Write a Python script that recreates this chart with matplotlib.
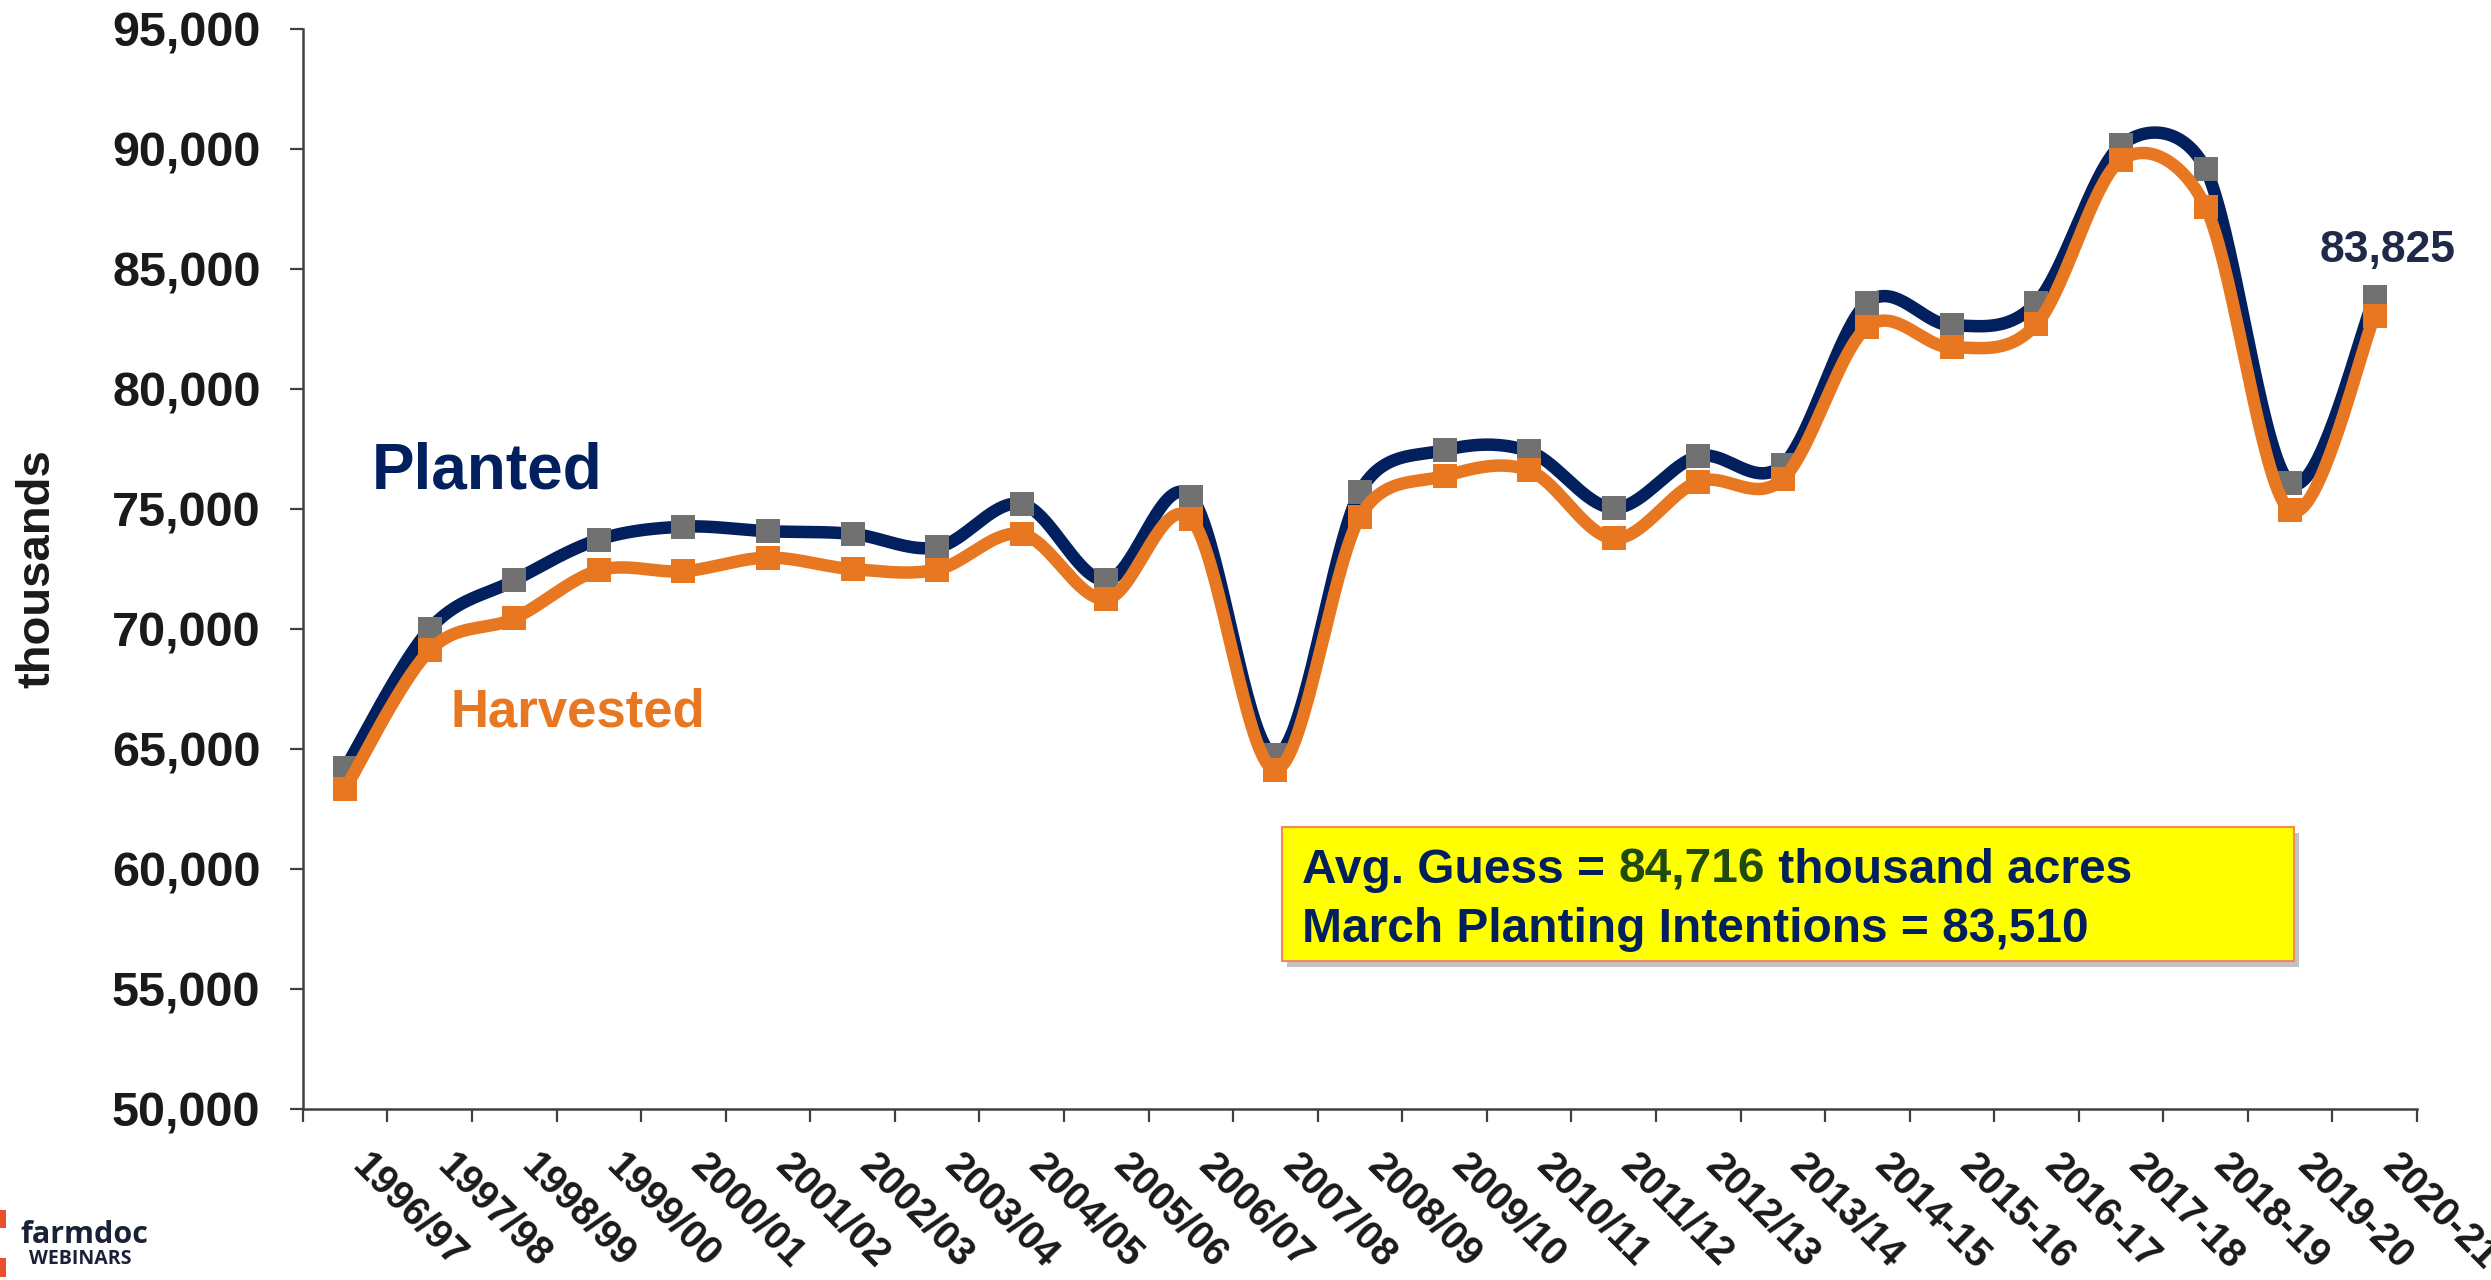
import numpy as np
import matplotlib.pyplot as plt
from matplotlib.patches import Rectangle
from matplotlib.ticker import FuncFormatter, FixedLocator

plt.rcParams['font.family'] = ['Liberation Sans', 'DejaVu Sans']
plt.rcParams['font.weight'] = 'bold'

# Soybean acreage (thousand acres)
years = ["1996/97", "1997/98", "1998/99", "1999/00", "2000/01", "2001/02",
         "2002/03", "2003/04", "2004/05", "2005/06", "2006/07", "2007/08",
         "2008/09", "2009/10", "2010/11", "2011/12", "2012/13", "2013/14",
         "2014-15", "2015-16", "2016-17", "2017-18", "2018-19", "2019-20",
         "2020-21"]
planted = [64195, 70005, 72025, 73730, 74266, 74075, 73963, 73404, 75208,
           72032, 75522, 64741, 75718, 77451, 77404, 75046, 77198, 76840,
           83600, 82650, 83600, 90162, 89167, 76100, 83825]
harvested = [63349, 69110, 70441, 72446, 72408, 72975, 72497, 72476, 73958,
             71251, 74602, 64146, 74681, 76372, 76610, 73776, 76144, 76253,
             82591, 81732, 82706, 89542, 87594, 74939, 83050]

avg_guess = "84,716"
march_intentions = "83,510"

NAVY = "#021F5E"
ORANGE = "#E87722"
GRAY = "#717171"


def smooth(ax, xs, ys, n=40):
    # Excel-style smoothed line: cubic bezier in screen space,
    # 1/6 tangents clamped to half the segment length
    pts = ax.transData.transform(np.column_stack([xs, ys]).astype(float))
    out = []
    t = np.linspace(0, 1, n)[:, None]
    m = len(pts)
    for i in range(m - 1):
        p0 = pts[max(i - 1, 0)]
        p1 = pts[i]
        p2 = pts[i + 1]
        p3 = pts[min(i + 2, m - 1)]
        d12 = np.hypot(*(p2 - p1))
        v1 = (p2 - p0) / 6
        v2 = (p3 - p1) / 6
        l1 = np.hypot(*v1)
        l2 = np.hypot(*v2)
        if l1 > d12 / 2:
            v1 *= d12 / 2 / l1
        if l2 > d12 / 2:
            v2 *= d12 / 2 / l2
        c1 = p1 + v1
        c2 = p2 - v2
        seg = (1 - t) ** 3 * p1 + 3 * (1 - t) ** 2 * t * c1 + 3 * (1 - t) * t ** 2 * c2 + t ** 3 * p2
        out.append(seg if i == 0 else seg[1:])
    return ax.transData.inverted().transform(np.vstack(out))


fig = plt.figure(figsize=(24.91, 12.8), dpi=100)
ax = fig.add_axes([0.1216, 0.1336, 0.9703 - 0.1216, 0.9773 - 0.1336])

x = np.arange(len(years))
ax.set_xlim(-0.5, len(years) - 0.5)
ax.set_ylim(50000, 95000)

sp = smooth(ax, x, planted)
ax.plot(sp[:, 0], sp[:, 1], color=NAVY, lw=9, solid_capstyle='butt', zorder=2)
ax.plot(x, planted, ls='none', marker='s', ms=17, color=GRAY, mew=0, zorder=3)

sh = smooth(ax, x, harvested)
ax.plot(sh[:, 0], sh[:, 1], color=ORANGE, lw=9, solid_capstyle='butt', zorder=4)
ax.plot(x, harvested, ls='none', marker='s', ms=17, color=ORANGE, mew=0, zorder=5)

ax.set_yticks(np.arange(50000, 95001, 5000))
ax.yaxis.set_major_formatter(FuncFormatter(lambda v, p: f"{int(v):,}"))

# ticks at category boundaries, labels at centres
ax.xaxis.set_major_locator(FixedLocator(np.arange(-0.5, len(years), 1.0)))
ax.xaxis.set_minor_locator(FixedLocator(x))
ax.set_xticklabels([], minor=False)
ax.set_xticklabels(years, minor=True, rotation=-45, ha='left', va='top',
                   fontsize=28.5, fontweight='bold')
ax.tick_params(axis='x', which='major', length=9.5, width=1.6, color='#404040', direction='out')
ax.tick_params(axis='x', which='minor', length=0, pad=27)
ax.tick_params(axis='y', length=9.5, width=1.6, color='#404040', direction='out',
               labelsize=35, pad=21)
for lab in ax.get_yticklabels():
    lab.set_fontweight('bold')
    lab.set_color('#1a1a1a')
for lab in ax.get_xticklabels(minor=True):
    lab.set_color('#1a1a1a')

for s in ['top', 'right']:
    ax.spines[s].set_visible(False)
for s in ['left', 'bottom']:
    ax.spines[s].set_linewidth(1.8)
    ax.spines[s].set_color('#404040')

ax.set_ylabel("thousands", fontsize=34, fontweight='bold', color='#1a1a1a')
ax.yaxis.set_label_coords(-0.115, 0.5)

# series labels
ax.text(0.32, 75850, "Planted", fontsize=46, fontweight='bold', color=NAVY)
ax.text(1.25, 65950, "Harvested", fontsize=38, fontweight='bold', color=ORANGE,
        family=['Liberation Sans Narrow', 'Liberation Sans'])

# last value label
ax.text(x[-1] + 0.15, 85300, f"{planted[-1]:,}", fontsize=32, fontweight='bold',
        color='#1F2A48', ha='center', va='baseline')

# yellow annotation box (figure pixels)
W, H = 2491.0, 1280.0
bx0, bx1, by0, by1 = 1282, 2294, 827, 961
fig.patches.append(Rectangle((bx0 / W + 0.002, 1 - by1 / H - 0.005), (bx1 - bx0) / W, (by1 - by0) / H,
                             transform=fig.transFigure, facecolor='#9a9a9a', alpha=0.6,
                             edgecolor='none', zorder=5))
fig.patches.append(Rectangle((bx0 / W, 1 - by1 / H), (bx1 - bx0) / W, (by1 - by0) / H,
                             transform=fig.transFigure, facecolor='#FFFF00',
                             edgecolor='#F08A5D', lw=1.5, zorder=6))
t1 = fig.text(1302 / W, 1 - 883 / H, "Avg. Guess = ", fontsize=34.5, fontweight='bold',
              color=NAVY, va='baseline', zorder=7)
fig.canvas.draw()
r = fig.canvas.get_renderer()
bb = t1.get_window_extent(r)
t2 = fig.text(bb.x1 / W, 1 - 883 / H, avg_guess, fontsize=34.5, fontweight='bold',
              color='#1F4A12', va='baseline', zorder=7)
bb2 = t2.get_window_extent(r)
fig.text(bb2.x1 / W, 1 - 883 / H, " thousand acres", fontsize=34.5, fontweight='bold',
         color=NAVY, va='baseline', zorder=7)
fig.text(1302 / W, 1 - 942 / H, f"March Planting Intentions = {march_intentions}",
         fontsize=34.5, fontweight='bold', color=NAVY, va='baseline', zorder=7)

# farmdoc logo
fig.patches.append(Rectangle((0, 1 - 1228 / H), 6 / W, 18 / H, transform=fig.transFigure,
                             facecolor='#E8502A', edgecolor='none'))
fig.patches.append(Rectangle((0, 1 - 1277 / H), 6 / W, 19 / H, transform=fig.transFigure,
                             facecolor='#E8502A', edgecolor='none'))
fig.text(20 / W, 1 - 1243 / H, "farmdoc", fontsize=22, fontweight='bold', color='#1a2238',
         family=['Open Sans', 'DejaVu Sans'], va='baseline')
fig.text(29 / W, 1 - 1264 / H, "WEBINARS", fontsize=14, fontweight='bold', color='#1a2238',
         family=['Open Sans', 'DejaVu Sans'], va='baseline')

fig.savefig("out.png", dpi=100)
